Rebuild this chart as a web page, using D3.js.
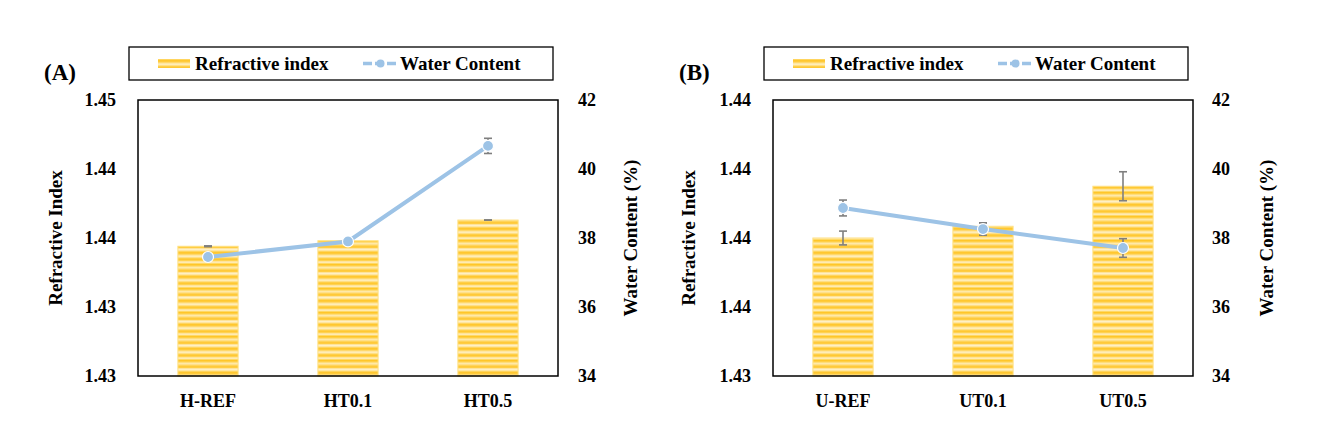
<!DOCTYPE html>
<html><head><meta charset="utf-8">
<script src="https://cdn.jsdelivr.net/npm/d3@7"></script>
<style>body{margin:0;background:#fff}svg{display:block}
svg text{font-family:"Liberation Serif","Times New Roman",Tinos,"DejaVu Serif",serif !important;font-weight:bold}</style>
</head><body>
<script>
// ---- data ----
const categoriesA = ["H-REF", "HT0.1", "HT0.5"];
const refractiveA = [1.4344, 1.4348, 1.4363];
const refractiveErrA = [0.00003, 0.00001, 0.00001];
const waterA = [37.45, 37.9, 40.67];
const waterErrA = [0.04, 0.04, 0.22];
const leftTickValuesA = [1.425, 1.43, 1.435, 1.44, 1.445];
const leftTickLabelsA = ["1.43", "1.43", "1.44", "1.44", "1.45"];

const categoriesB = ["U-REF", "UT0.1", "UT0.5"];
const refractiveB = [1.4360, 1.43617, 1.43675];
const refractiveErrB = [0.0001, 0.00005, 0.00021];
const waterB = [38.87, 38.26, 37.71];
const waterErrB = [0.23, 0.18, 0.27];
const leftTickValuesB = [1.434, 1.435, 1.436, 1.437, 1.438];
const leftTickLabelsB = ["1.43", "1.44", "1.44", "1.44", "1.44"];

const rightTickValues = [34, 36, 38, 40, 42];
const seriesNames = ["Refractive index", "Water Content"];
const panelTitles = ["(A)", "(B)"];

const W = 1322, H = 445;
const svg = d3.select("body").append("svg").attr("width", W).attr("height", H);
const FONT = "Liberation Serif";

// stripe pattern for bars
const defs = svg.append("defs");
const pat = defs.append("pattern").attr("id", "stripes").attr("patternUnits", "userSpaceOnUse")
  .attr("width", 10).attr("height", 24);
const stripeCols = ["#FFC629","#FFCF45","#FFDD7A","#FFE9A8","#FFE08A","#FFD45A","#FFC93A","#FFCD42","#FFE39A","#FFF0C4","#FFE6A0","#FFD55E",
                    "#FFC72F","#FFCB3C","#FFD86C","#FFE7A3","#FFEDB8","#FFDF85","#FFCF48","#FFC833","#FFD252","#FFE49B","#FFEBB2","#FFD966"];
stripeCols.forEach((c, i) => pat.append("rect").attr("x", 0).attr("y", i).attr("width", 10).attr("height", 1).attr("fill", c));

const blue = "#9DC3E6";
const errCol = "#7F7F7F";

function panel(opt) {
  const {x0, x1, y0, y1, cats, refr, refrErr, water, waterErr, lDomain, lTicks, lLabels, title, legend, titleX, lTitleX, rTitleX, lTickX, rTickX} = opt;
  const g = svg.append("g");
  const x = d3.scaleBand().domain(cats).range([x0, x1]).paddingInner(0.57).paddingOuter(0.285);
  const yL = d3.scaleLinear().domain(lDomain).range([y1, y0]);
  const yR = d3.scaleLinear().domain([34, 42]).range([y1, y0]);

  g.selectAll(".bar").data(cats).join("rect")
    .attr("x", d => x(d)).attr("width", x.bandwidth())
    .attr("y", (d, i) => yL(refr[i])).attr("height", (d, i) => y1 - yL(refr[i]))
    .attr("fill", "url(#stripes)").attr("stroke", "#FFE080").attr("stroke-width", 1);

  const cx = d => x(d) + x.bandwidth() / 2;
  function errBars(vals, errs, scale) {
    const eg = g.append("g").attr("stroke", errCol).attr("stroke-width", 1.6);
    cats.forEach((d, i) => {
      const yt = scale(vals[i] + errs[i]), yb = scale(vals[i] - errs[i]);
      eg.append("line").attr("x1", cx(d)).attr("x2", cx(d)).attr("y1", yt).attr("y2", yb);
      eg.append("line").attr("x1", cx(d) - 4).attr("x2", cx(d) + 4).attr("y1", yt).attr("y2", yt);
      eg.append("line").attr("x1", cx(d) - 4).attr("x2", cx(d) + 4).attr("y1", yb).attr("y2", yb);
    });
  }
  errBars(refr, refrErr, yL);

  const line = d3.line().x((d, i) => cx(cats[i])).y(d => yR(d));
  g.append("path").datum(water).attr("d", line).attr("fill", "none")
    .attr("stroke", blue).attr("stroke-width", 4);
  errBars(water, waterErr, yR);
  g.selectAll(".pt").data(water).join("circle")
    .attr("cx", (d, i) => cx(cats[i])).attr("cy", d => yR(d)).attr("r", 5.5)
    .attr("fill", blue).attr("stroke", "#fff").attr("stroke-width", 1.2);

  g.append("rect").attr("x", x0).attr("y", y0).attr("width", x1 - x0).attr("height", y1 - y0)
    .attr("fill", "none").attr("stroke", "#000").attr("stroke-width", 1.5);

  const la = d3.axisLeft(yL).tickValues(lTicks).tickFormat((d, i) => lLabels[i]).tickSize(0).tickPadding(0);
  const lag = g.append("g").attr("transform", `translate(${lTickX},0)`).call(la);
  lag.select(".domain").remove();
  lag.selectAll("text").attr("font-size", 18).attr("fill", "#000");

  const ra = d3.axisRight(yR).tickValues(rightTickValues).tickFormat(d3.format("d")).tickSize(0).tickPadding(0);
  const rag = g.append("g").attr("transform", `translate(${rTickX},0)`).call(ra);
  rag.select(".domain").remove();
  rag.selectAll("text").attr("font-size", 18).attr("fill", "#000");

  const xa = d3.axisBottom(x).tickSize(0).tickPadding(0);
  const xag = g.append("g").attr("transform", `translate(0,${y1 + 18})`).call(xa);
  xag.select(".domain").remove();
  xag.selectAll("text").attr("font-size", 18).attr("fill", "#000");

  g.append("text").attr("transform", `translate(${lTitleX},${(y0 + y1) / 2}) rotate(-90)`)
    .attr("text-anchor", "middle").attr("font-size", 19).text("Refractive Index");
  g.append("text").attr("transform", `translate(${rTitleX},${(y0 + y1) / 2}) rotate(-90)`)
    .attr("text-anchor", "middle").attr("font-size", 19).text("Water Content (%)");

  g.append("text").attr("x", titleX).attr("y", 80).attr("font-size", 23).text(title);

  const L = legend;
  g.append("rect").attr("x", L.x).attr("y", 47).attr("width", L.w).attr("height", 33)
    .attr("fill", "#fff").attr("stroke", "#000").attr("stroke-width", 1.3);
  g.append("rect").attr("x", L.sw).attr("y", 59).attr("width", 32).attr("height", 9).attr("fill", "url(#stripes)");
  g.append("text").attr("x", L.sw + 37).attr("y", 70).attr("font-size", 19).text(seriesNames[0]);
  g.append("line").attr("x1", L.ln).attr("x2", L.ln + 35).attr("y1", 63.5).attr("y2", 63.5)
    .attr("stroke", blue).attr("stroke-width", 3.5).attr("stroke-dasharray", "9,3");
  g.append("circle").attr("cx", L.ln + 17.5).attr("cy", 63.5).attr("r", 4).attr("fill", blue);
  g.append("text").attr("x", L.ln + 37).attr("y", 70).attr("font-size", 19).text(seriesNames[1]);
}

panel({x0: 138, x1: 558, y0: 100, y1: 376, cats: categoriesA, refr: refractiveA, refrErr: refractiveErrA,
  water: waterA, waterErr: waterErrA, lDomain: [1.425, 1.445], lTicks: leftTickValuesA, lLabels: leftTickLabelsA,
  title: panelTitles[0], titleX: 44, lTitleX: 62, rTitleX: 637, lTickX: 116, rTickX: 578,
  legend: {x: 129, w: 424, sw: 158, ln: 363}});

panel({x0: 773, x1: 1193, y0: 100, y1: 376, cats: categoriesB, refr: refractiveB, refrErr: refractiveErrB,
  water: waterB, waterErr: waterErrB, lDomain: [1.434, 1.438], lTicks: leftTickValuesB, lLabels: leftTickLabelsB,
  title: panelTitles[1], titleX: 679, lTitleX: 695, rTitleX: 1273, lTickX: 751, rTickX: 1212,
  legend: {x: 764, w: 424, sw: 793, ln: 998}});
</script>
</body></html>
